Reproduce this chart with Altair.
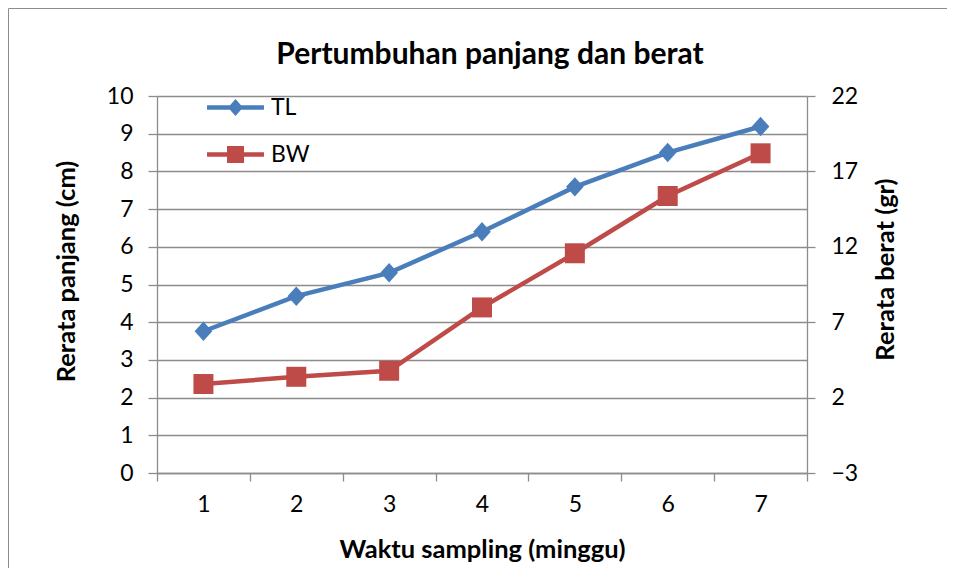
import altair as alt
import pandas as pd

weeks = [1, 2, 3, 4, 5, 6, 7]
tl_values = [3.76, 4.69, 5.31, 6.40, 7.59, 8.50, 9.19]
bw_values = [2.9, 3.38, 3.78, 7.98, 11.57, 15.37, 18.2]
series = ["TL", "BW"]
colors = ["#4A7EBB", "#BE4B48"]
left_ticks = list(range(0, 11))
right_ticks = [-3, 2, 7, 12, 17, 22]

df_tl = pd.DataFrame({"week": weeks, "val": tl_values, "series": series[0]})
df_bw = pd.DataFrame({"week": weeks, "val": bw_values, "series": series[1]})

FONT = "Lato"
GRID = "#8C8C8C"
LABEL_SIZE = 23
TITLE_SIZE = 25.5
DIAMOND = "M0,-1L0.91,0L0,1L-0.91,0Z"
LEG_TL = "M-3.35,-0.27L3.35,-0.27L3.35,0.27L-3.35,0.27Z M0,-1L0.88,0L0,1L-0.88,0Z"
LEG_BW = "M-3.35,-0.27L3.35,-0.27L3.35,0.27L-3.35,0.27Z M-1,-1L1,-1L1,1L-1,1Z"


def make_legend(sym, ly):
    return alt.Legend(
        title=None,
        orient="none",
        legendX=67,
        legendY=ly,
        padding=0,
        symbolType=sym,
        symbolSize=289,
        symbolStrokeWidth=0,
        symbolOpacity=1,
        labelFont=FONT,
        labelFontSize=LABEL_SIZE,
        labelColor="#000000",
        labelOffset=24,
    )


x_enc = alt.X(
    "week:O",
    scale=alt.Scale(paddingInner=0, paddingOuter=0),
    axis=alt.Axis(
        title="Waktu sampling (minggu)",
        labelAngle=0,
        tickBand="extent",
        tickSize=8,
        labelPadding=12,
        grid=False,
        titleY=76,
        titleBaseline="middle",
    ),
)

y_left = alt.Y(
    "val:Q",
    scale=alt.Scale(domain=[0, 10], nice=False),
    axis=alt.Axis(
        title="Rerata panjang (cm)",
        values=left_ticks,
        grid=True,
        tickSize=9,
        labelPadding=15,
        titleX=-91,
        titleY=175,
        titleAngle=270,
        titleBaseline="middle",
    ),
)
y_right = alt.Y(
    "val:Q",
    scale=alt.Scale(domain=[-3, 22], nice=False),
    axis=alt.Axis(
        title="Rerata berat (gr)",
        orient="right",
        values=right_ticks,
        grid=False,
        tickSize=8,
        labelPadding=16,
        titleX=78,
        titleY=173,
        titleAngle=270,
        titleBaseline="middle",
    ),
)

tl_line = alt.Chart(df_tl).mark_line(strokeWidth=4.5, color=colors[0]).encode(x=x_enc, y=y_left)
tl_pts = alt.Chart(df_tl).mark_point(filled=True, size=376, opacity=1, shape=DIAMOND).encode(
    x=x_enc,
    y=y_left,
    color=alt.Color("series:N", scale=alt.Scale(domain=[series[0]], range=[colors[0]]),
                    legend=make_legend(LEG_TL, 0)),
)
bw_line = alt.Chart(df_bw).mark_line(strokeWidth=4.5, color=colors[1]).encode(x=x_enc, y=y_right)
bw_pts = alt.Chart(df_bw).mark_point(filled=True, size=400, opacity=1, shape="square").encode(
    x=x_enc,
    y=y_right,
    color=alt.Color("series:N", scale=alt.Scale(domain=[series[1]], range=[colors[1]]),
                    legend=make_legend(LEG_BW, 47)),
)

frame_src = pd.DataFrame({"f": [0]})
frame_top = alt.Chart(frame_src).mark_rule(stroke=GRID, strokeWidth=1, clip=False).encode(
    x=alt.value(-148.5), x2=alt.value(790), y=alt.value(-87.5)
)
frame_left = alt.Chart(frame_src).mark_rule(stroke=GRID, strokeWidth=1, clip=False).encode(
    x=alt.value(-148.5), y=alt.value(-87.5), y2=alt.value(472)
)

left = alt.layer(tl_line, tl_pts)
right = alt.layer(bw_line, bw_pts)

chart = (
    alt.layer(frame_top, frame_left, left, right)
    .resolve_scale(y="independent", color="independent")
    .properties(
        width=650,
        height=377,
        autosize="none",
        padding={"left": 149, "top": 88, "right": 140, "bottom": 95},
        title=alt.TitleParams(
            "Pertumbuhan panjang dan berat",
            font=FONT,
            fontSize=30,
            fontWeight="bold",
            color="#000000",
            frame="group",
            anchor="middle",
            baseline="middle",
            offset=-77,
            dx=8,
        ),
    )
    .configure_view(stroke=None)
    .configure_axis(
        labelFont=FONT,
        labelFontSize=LABEL_SIZE,
        labelColor="#000000",
        titleFont=FONT,
        titleFontSize=TITLE_SIZE,
        titleFontWeight="bold",
        titleColor="#000000",
        domainColor=GRID,
        domainWidth=1.3,
        tickColor=GRID,
        tickWidth=1.3,
        gridColor=GRID,
        gridWidth=1.3,
        gridOpacity=1,
    )
)

chart.save("out.html", embed_options={"renderer": "svg", "actions": False})
